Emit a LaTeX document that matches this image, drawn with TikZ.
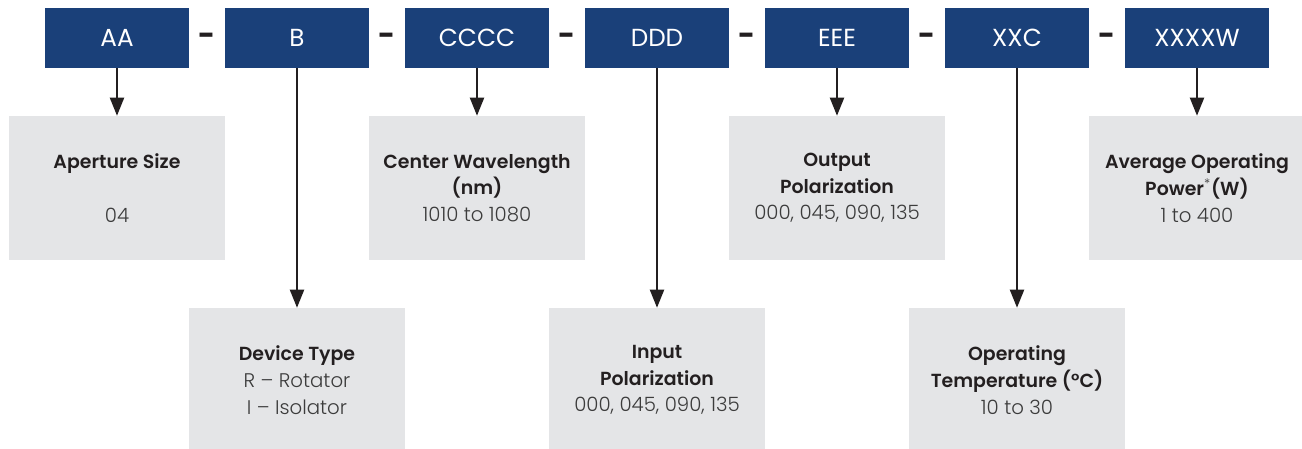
\documentclass[tikz,border=0pt]{standalone}
\usepackage{fontspec}
\setmainfont{Poppins}
\newfontfamily\lightfont{Poppins Light}
\newfontfamily\semifont{Poppins SemiBold}
\usetikzlibrary{arrows.meta}
\definecolor{codeblue}{HTML}{1A4079}
\definecolor{boxgrey}{HTML}{E4E5E7}
\definecolor{ink}{HTML}{231F20}
\definecolor{valgrey}{HTML}{3C3C3C}
\newcommand{\hd}[1]{{\semifont\color{ink}#1}}
\newcommand{\vl}[1]{{\lightfont\fontsize{14.8}{20}\selectfont\color{valgrey}#1}}
\begin{document}
\begin{tikzpicture}[x=0.75pt,y=-0.75pt,
  codebox/.style={fill=codeblue,text=white,minimum width=108pt,minimum height=45pt,inner sep=0pt,font=\fontsize{18.5}{20}\selectfont},
  infobox/.style={fill=boxgrey,minimum width=162pt,minimum height=108pt,inner sep=0pt,align=center,font=\fontsize{14.2}{20}\selectfont},
  sep/.style={inner sep=0pt,text=ink,font=\bfseries\fontsize{22}{22}\selectfont},
  arr/.style={draw=ink,line width=1.5pt,-{Triangle[width=10.5pt,length=13.5pt]}}]
\useasboundingbox (0,0) rectangle (1302,449);
% code boxes
\node[codebox] (aa) at (117,38) {AA};
\node[codebox] (b) at (297,38) {B};
\node[codebox] (c) at (477,38) {CCCC};
\node[codebox] (d) at (657,38) {DDD};
\node[codebox] (e) at (837,38) {EEE};
\node[codebox] (xxc) at (1017,38) {XXC};
\node[codebox] (w) at (1197,38) {XXXXW};
% separators
\node[sep] (s1) at (207,39) {-};
\node[sep] (s2) at (387,39) {-};
\node[sep] (s3) at (567,39) {-};
\node[sep] (s4) at (747,39) {-};
\node[sep] (s5) at (927,39) {-};
\node[sep] (s6) at (1107,39) {-};
% info boxes
\node[infobox] (ap) at (117,188) {\hd{Aperture Size}\\ \mbox{}\\ \vl{04}};
\node[infobox] (cw) at (477,188) {\hd{Center Wavelength}\\ \hd{(nm)}\\ \vl{1010 to 1080}};
\node[infobox] (op) at (837,188) {\hd{Output}\\ \hd{Polarization}\\ \vl{000, 045, 090, 135}};
\node[infobox] (pw) at (1197,188) {\hd{Average Operating}\\ \hd{Power}{\lightfont\color{valgrey}\textsuperscript{*}}\hd{ (W)}\\ \vl{1 to 400}};
\node[infobox] (dt) at (297,380) {\hd{Device Type}\\ \vl{R – Rotator}\\ \vl{I – Isolator}};
\node[infobox] (ip) at (657,380) {\hd{Input}\\ \hd{Polarization}\\ \vl{000, 045, 090, 135}};
\node[infobox] (ot) at (1017,380) {\hd{Operating}\\ \hd{Temperature (°C)}\\ \vl{10 to 30}};
% arrows
\draw[arr] (aa.south) -- (ap.north);
\draw[arr] (b.south) -- (dt.north);
\draw[arr] (c.south) -- (cw.north);
\draw[arr] (d.south) -- (ip.north);
\draw[arr] (e.south) -- (op.north);
\draw[arr] (xxc.south) -- (ot.north);
\draw[arr] (w.south) -- (pw.north);
\end{tikzpicture}
\end{document}
